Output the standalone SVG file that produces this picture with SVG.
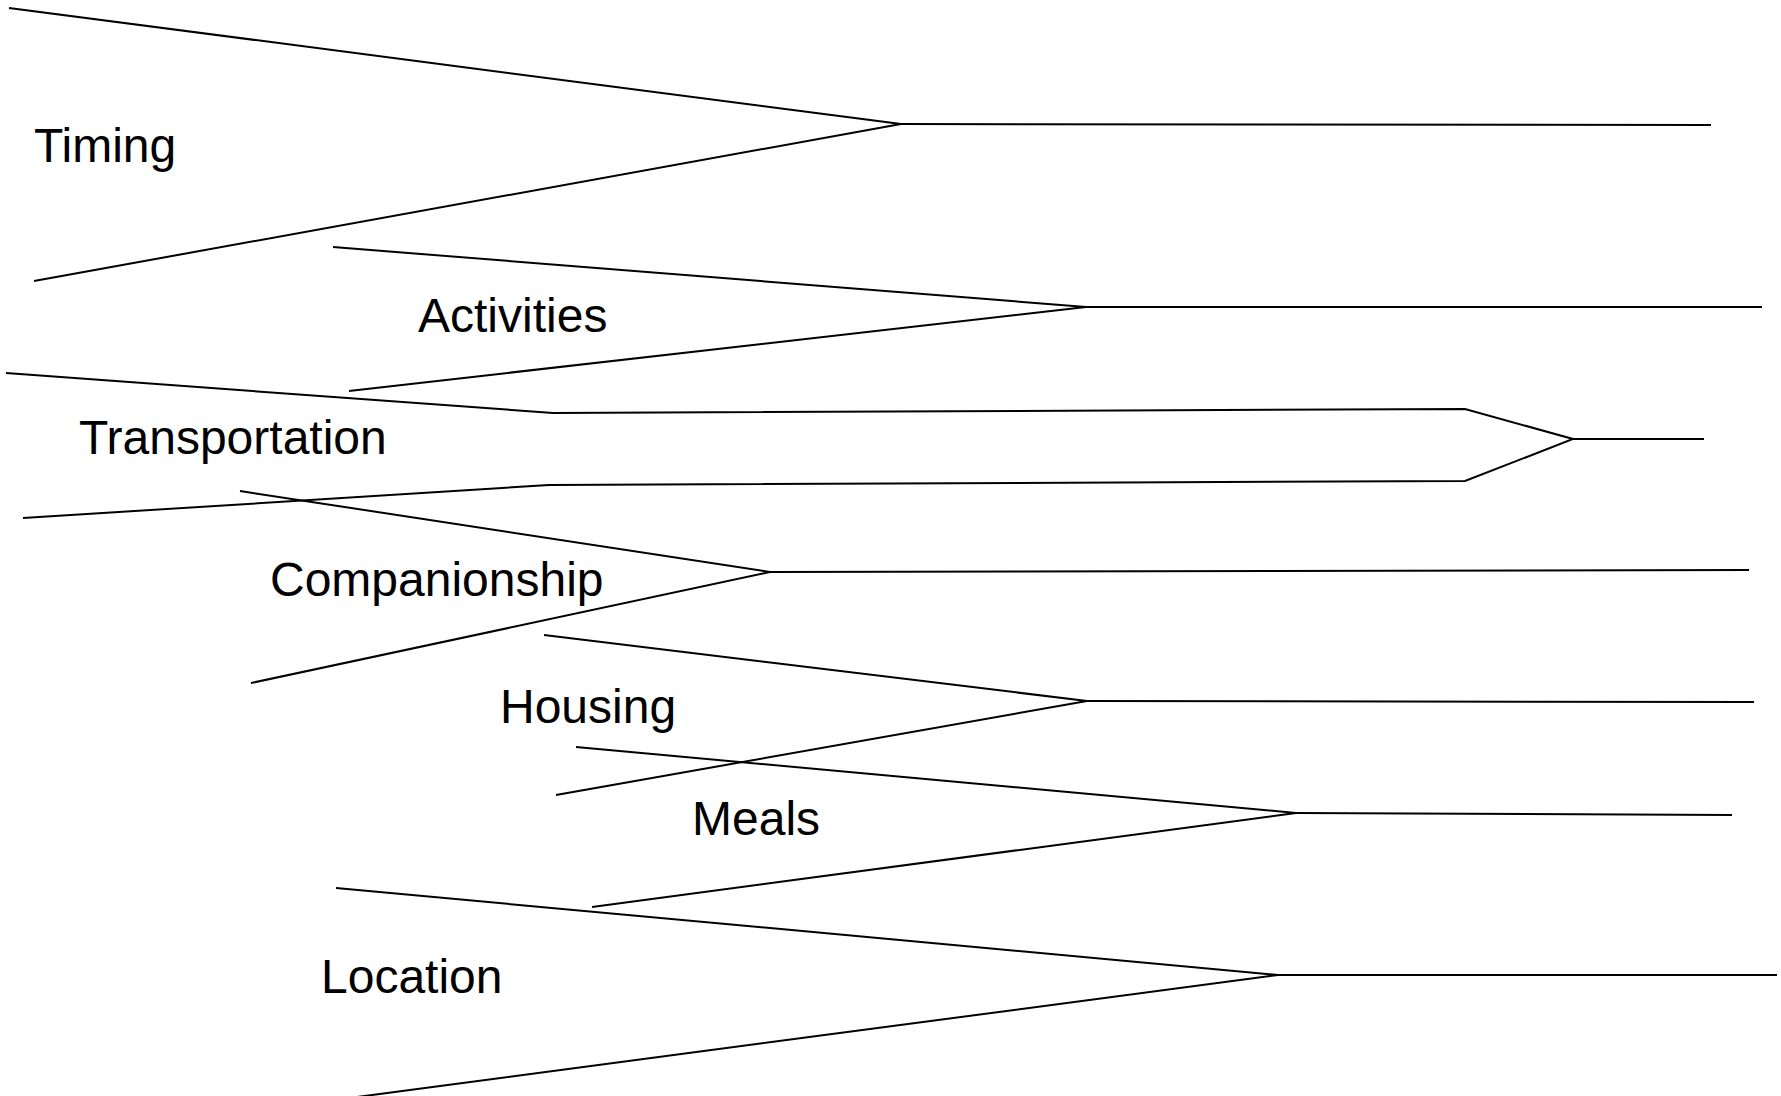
<svg xmlns="http://www.w3.org/2000/svg" width="1781" height="1096" viewBox="0 0 1781 1096">
  <style>
    .bg { fill: #ffffff; }
    .label { font-family: "Liberation Sans", Arial, sans-serif; font-size: 48px; fill: #000000; }
    .branch { fill: none; stroke: #000000; stroke-width: 2; stroke-linejoin: miter; stroke-linecap: butt; }
  </style>
  <rect class="bg" x="0" y="0" width="1781" height="1096"/>

  <!-- Category labels -->
  <g id="node-timing"><text class="label" x="34" y="162">Timing</text></g>
  <g id="node-activities"><text class="label" x="418" y="332">Activities</text></g>
  <g id="node-transportation"><text class="label" x="79" y="454">Transportation</text></g>
  <g id="node-companionship"><text class="label" x="270" y="596">Companionship</text></g>
  <g id="node-housing"><text class="label" x="500" y="723">Housing</text></g>
  <g id="node-meals"><text class="label" x="692" y="835">Meals</text></g>
  <g id="node-location"><text class="label" x="321" y="993">Location</text></g>

  <!-- Converging branch lines -->
  <g id="connectors">
    <!-- Timing -->
    <polyline class="branch" points="9,8 901,124 34,281"/>
    <line class="branch" x1="901" y1="124" x2="1711" y2="125"/>
    <!-- Activities -->
    <polyline class="branch" points="333,247 1086,307 349,391"/>
    <line class="branch" x1="1086" y1="307" x2="1762" y2="307"/>
    <!-- Transportation -->
    <polyline class="branch" points="6,373 553,413 1465,409 1573,439 1465,481 549,485 23,518"/>
    <line class="branch" x1="1573" y1="439" x2="1704" y2="439"/>
    <!-- Companionship -->
    <polyline class="branch" points="240,491 770,572 251,683"/>
    <line class="branch" x1="770" y1="572" x2="1749" y2="570"/>
    <!-- Housing -->
    <polyline class="branch" points="544,635 1087,701 556,795"/>
    <line class="branch" x1="1087" y1="701" x2="1754" y2="702"/>
    <!-- Meals -->
    <polyline class="branch" points="576,747 1296,813 592,907"/>
    <line class="branch" x1="1296" y1="813" x2="1732" y2="815"/>
    <!-- Location -->
    <polyline class="branch" points="336,888 1278,975 357,1097"/>
    <line class="branch" x1="1278" y1="975" x2="1777" y2="975"/>
  </g>
</svg>
